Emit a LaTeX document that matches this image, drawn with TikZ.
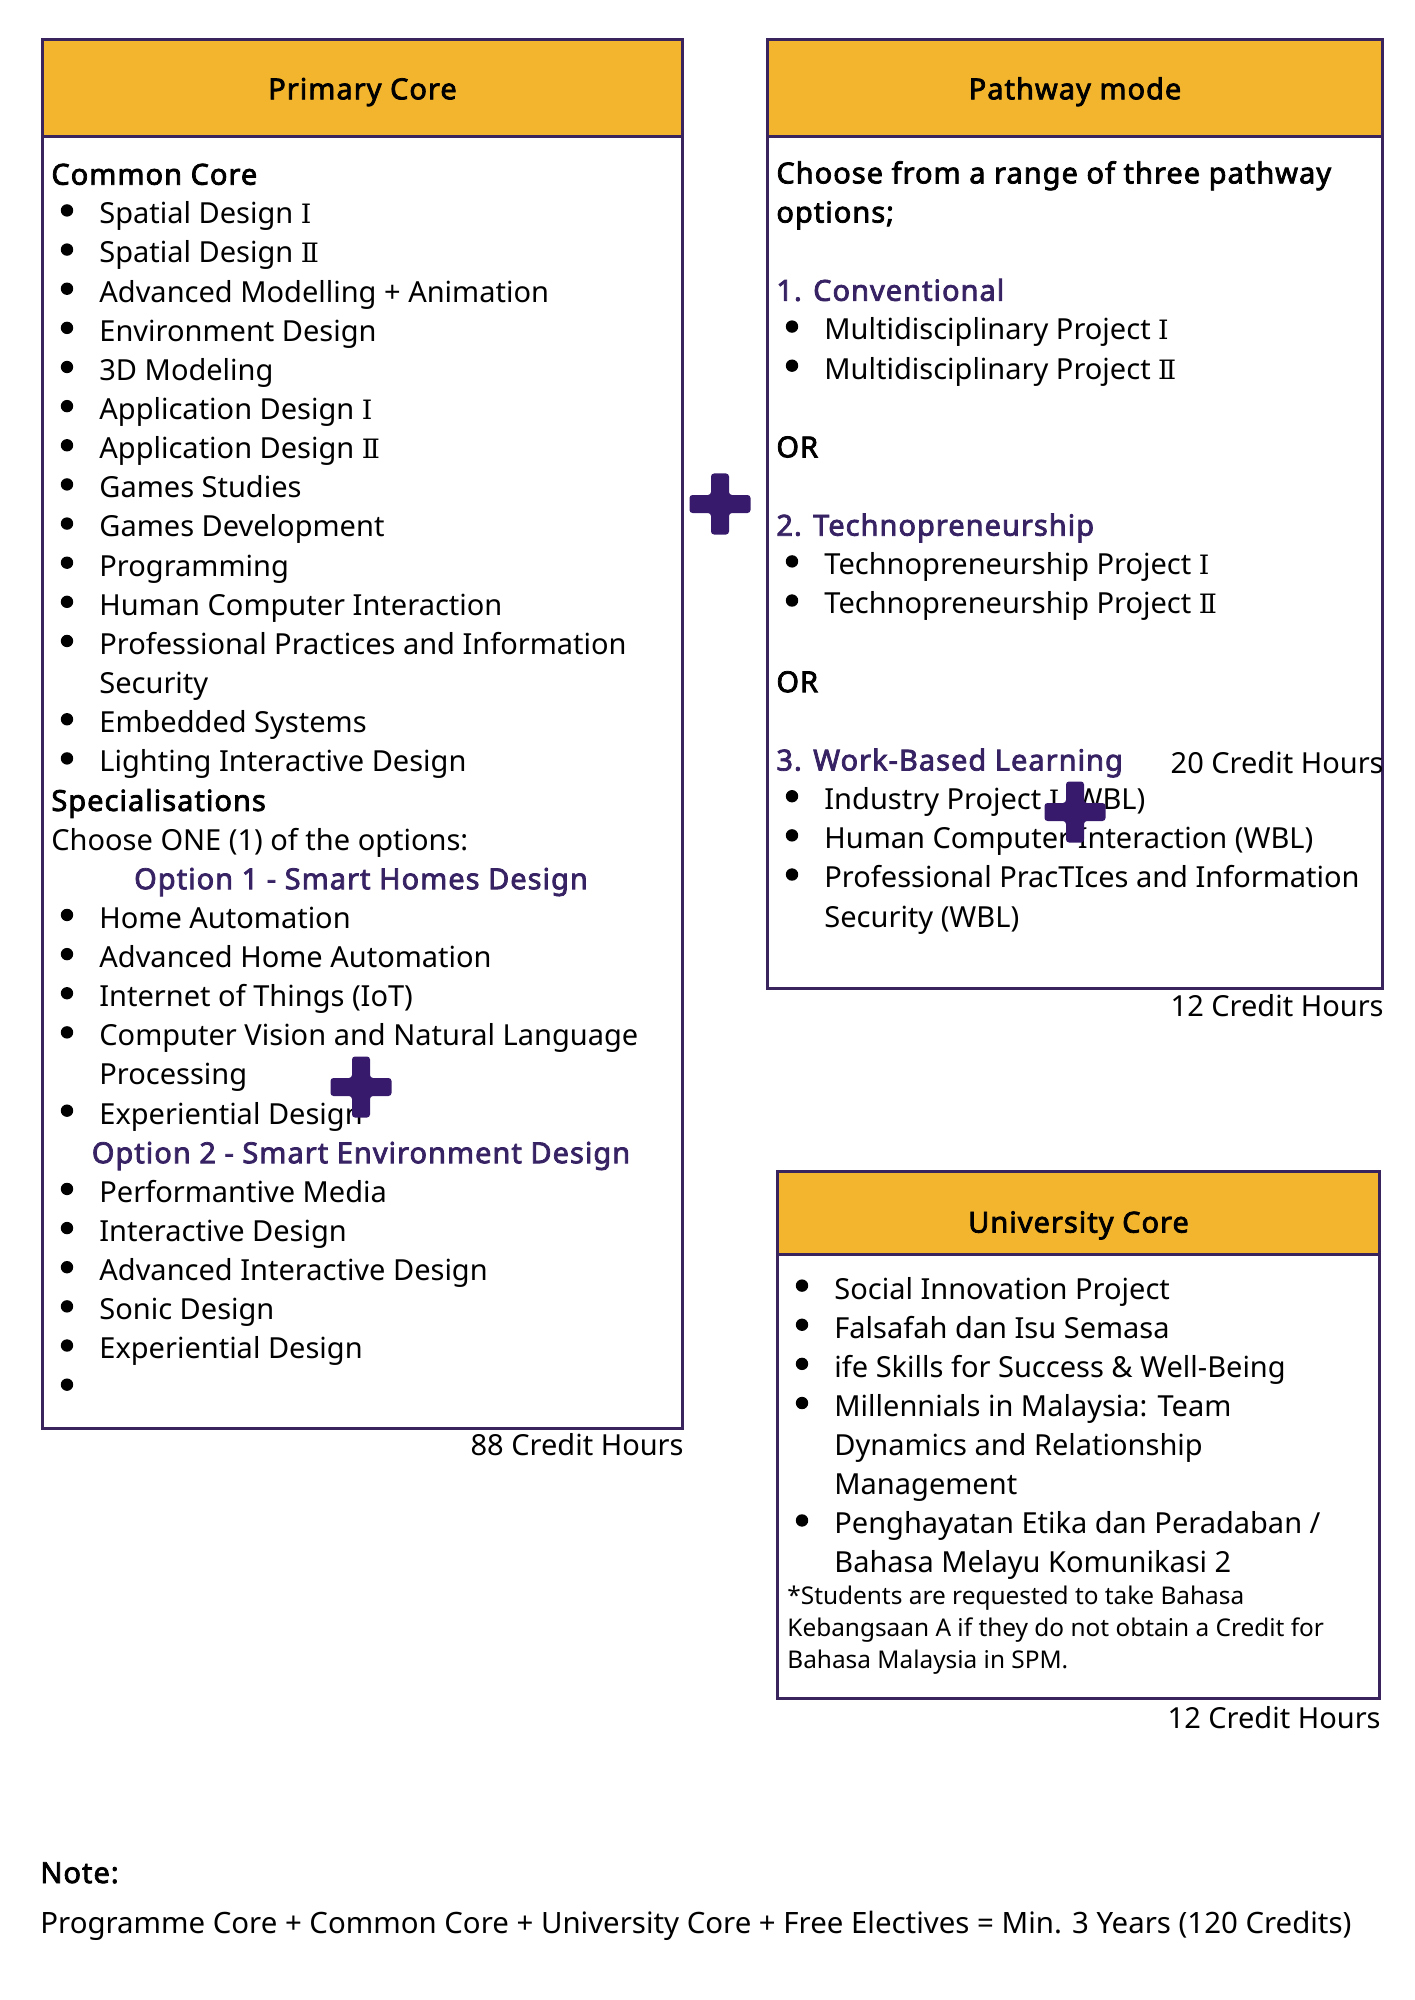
\documentclass[tikz,border=0pt]{standalone}
\usepackage{fontspec}
\setmainfont{Noto Sans}[BoldFont={Noto Sans}, BoldFeatures={FakeBold=2.6, LetterSpace=3.5}]
\newfontfamily\romanfont{DejaVu Serif}[Scale=0.92]
\usepackage{tikz}
\usetikzlibrary{positioning}
\newcommand{\bodysize}{\fontsize{14.5}{19.6}\selectfont}
\newcommand{\notesize}{\fontsize{12.2}{15}\selectfont}
\definecolor{hdrgold}{RGB}{243,181,46}
\definecolor{edgepurple}{RGB}{58,36,94}
\definecolor{optpurple}{RGB}{55,34,100}
\definecolor{plusviolet}{RGB}{56,26,108}

\begin{document}
\begin{tikzpicture}[x=0.5pt, y=-0.5pt, font=\bodysize,
    frame/.style={draw=edgepurple, line width=1.5pt, inner sep=0pt, anchor=north west},
    head/.style={frame, fill=hdrgold, font=\bodysize\bfseries, minimum height=48.5pt,
      text height=11.3pt, text depth=0pt},
    txt/.style={anchor=base west, inner sep=0pt, text height=13.4pt, text depth=0pt},
    dot/.style={circle, fill=black, inner sep=0pt, minimum size=6.2pt, anchor=center, xshift=-16pt},
    lnh/.style={txt, xshift=5pt, font=\bodysize\bfseries},
    lnp/.style={txt, xshift=5pt},
    lng/.style={txt, xshift=5pt, font=\bodysize\bfseries, text=optpurple},
    lno/.style={txt, anchor=base, xshift=160pt, font=\bodysize\bfseries, text=optpurple},
    lnb/.style={txt, xshift=29pt, label={[dot]west:{}}},
    lnc/.style={txt, xshift=29pt},
    lnf/.style={txt, xshift=5.5pt, font=\notesize},
    credit/.style={anchor=base east, inner sep=0pt},
    plusmark/.pic={
      \fill[plusviolet, rounded corners=1.5pt] (-9,-30.5) -- (9,-30.5) -- (9,-9) -- (30.5,-9)
        -- (30.5,9) -- (9,9) -- (9,30.5) -- (-9,30.5) -- (-9,9) -- (-30.5,9) -- (-30.5,-9)
        -- (-9,-9) -- cycle;
    }
]
\useasboundingbox (0,0) rectangle (1414,2000);

% frames
\node[frame, minimum width=320pt, minimum height=694.5pt] (prim) at (41,38) {};
\node[head, minimum width=320pt] (primhead) at (prim.north west) {Primary Core};
\node[frame, minimum width=307.5pt, minimum height=474.5pt] (pathway) at (766,38) {};
\node[head, minimum width=307.5pt] (pathhead) at (pathway.north west) {Pathway mode};
\node[frame, minimum width=301pt, minimum height=263.5pt] (unicore) at (776,1170) {};
\node[head, minimum width=301pt, minimum height=41.5pt, text height=19.6pt] (unihead)
  at (unicore.north west) {University Core};

% primary core list
\begin{scope}[shift={(41,184.7)}]
\foreach \i/\k/\t in {0/h/Common Core, 1/b/Spatial Design {\romanfont Ⅰ}, 2/b/Spatial Design {\romanfont Ⅱ},
    3/b/Advanced Modelling + Animation, 4/b/Environment Design, 5/b/3D Modeling,
    6/b/Application Design {\romanfont Ⅰ}, 7/b/Application Design {\romanfont Ⅱ}, 8/b/Games Studies,
    9/b/Games Development, 10/b/Programming, 11/b/Human Computer Interaction,
    12/b/Professional Practices and Information, 13/c/Security, 14/b/Embedded Systems,
    15/b/Lighting Interactive Design, 16/h/Specialisations, 17/p/Choose ONE (1) of the options:,
    18/o/Option 1 - Smart Homes Design, 19/b/Home Automation, 20/b/Advanced Home Automation,
    21/b/Internet of Things (IoT), 22/b/Computer Vision and Natural Language, 23/c/Processing,
    24/b/Experiential Design, 25/o/Option 2 - Smart Environment Design, 26/b/Performantive Media,
    27/b/Interactive Design, 28/b/Advanced Interactive Design, 29/b/Sonic Design,
    30/b/Experiential Design, 31/b/{}}
  \node[ln\k] (pc\i) at (0,{39.14*\i}) {\t};
\end{scope}

% pathway list
\begin{scope}[shift={(766,183.4)}]
\foreach \i/\k/\t in {0/h/Choose from a range of three pathway, 1/h/options;,
    3/g/1. Conventional, 4/b/Multidisciplinary Project {\romanfont Ⅰ},
    5/b/Multidisciplinary Project {\romanfont Ⅱ},
    7/h/OR, 9/g/2. Technopreneurship, 10/b/Technopreneurship Project {\romanfont Ⅰ},
    11/b/Technopreneurship Project {\romanfont Ⅱ}, 13/h/OR, 15/g/3. Work-Based Learning,
    16/b/Industry Project {\romanfont Ⅰ} (WBL), 17/b/Human Computer Interaction (WBL),
    18/b/Professional PracTIces and Information, 19/c/Security (WBL)}
  \node[ln\k] (pw\i) at (0,{39.14*\i}) {\t};
\end{scope}

% university core list
\begin{scope}[shift={(776,1299)}]
\foreach \i/\k/\t in {0/b/Social Innovation Project, 1/b/Falsafah dan Isu Semasa,
    2/b/ife Skills for Success \& Well-Being, 3/b/Millennials in Malaysia: Team,
    4/c/Dynamics and Relationship, 5/c/Management,
    6/b/{Penghayatan Etika dan Peradaban /}, 7/c/Bahasa Melayu Komunikasi 2}
  \node[ln\k] (uc\i) at (0,{39.14*\i}) {\t};
\foreach \i/\t in {0/*Students are requested to take Bahasa,
    1/Kebangsaan A if they do not obtain a Credit for, 2/Bahasa Malaysia in SPM.}
  \node[lnf] (fn\i) at (0,{305+32*\i}) {\t};
\end{scope}

% credit hours
\node[credit] (cr88) at ([yshift=-12.8pt]prim.south east) {88 Credit Hours};
\node[credit, yshift=-1.5pt] (cr20) at (pw15.base -| pathway.east) {20 Credit Hours};
\node[credit] (cr12a) at ([yshift=-13.2pt]pathway.south east) {12 Credit Hours};
\node[credit] (cr12b) at ([yshift=-14pt]unicore.south east) {12 Credit Hours};

% note
\node[anchor=base west, inner sep=0pt, font=\bodysize\bfseries] (note) at (40,1883) {Note:};
\node[anchor=base west, inner sep=0pt, font=\fontsize{14.7}{19.6}\selectfont] (sum) at (40,1933)
  {Programme Core + Common Core + University Core + Free Electives = Min. 3 Years (120 Credits)};

% plus signs
\pic at (720,504) {plusmark};
\pic at (361,1087) {plusmark};
\pic at (1075,812) {plusmark};
\end{tikzpicture}
\end{document}
